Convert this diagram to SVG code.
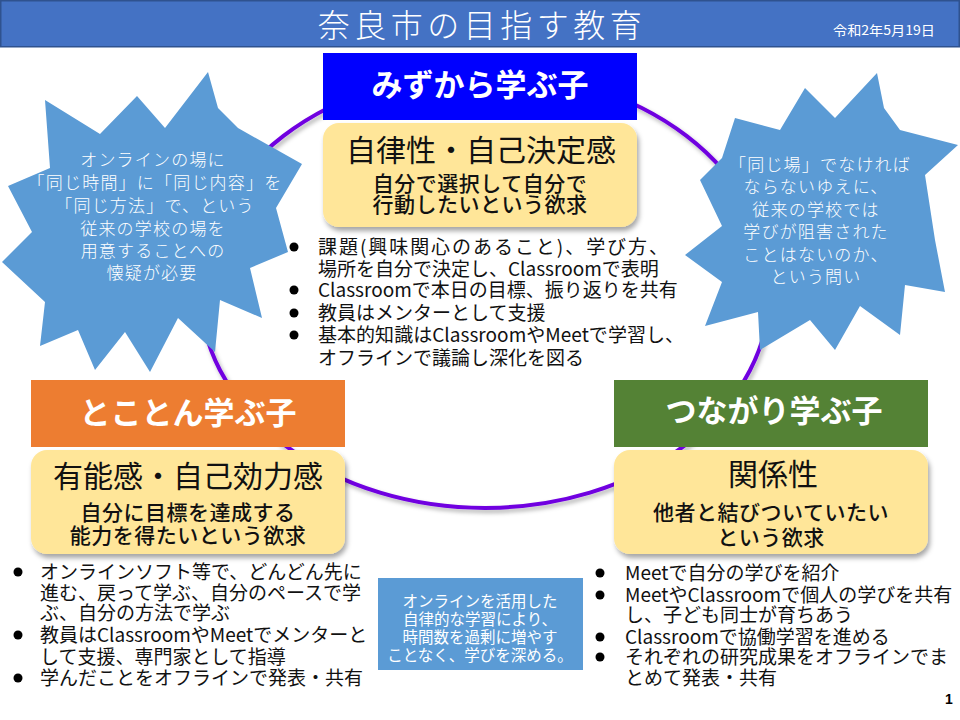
<svg xmlns="http://www.w3.org/2000/svg" width="960" height="720" viewBox="0 0 960 720">
<style>
.jp{font-family:"Noto Sans CJK JP","Noto Sans",sans-serif}
.title{font-size:32px;fill:#fff;text-anchor:middle;font-weight:300;letter-spacing:4.5px}
.date{font-size:13px;fill:#fff}
.hdr{font-size:31px;fill:#fff;text-anchor:middle;font-weight:bold}
.box{fill:#FFE699;filter:url(#sh)}
.main{font-size:30px;fill:#111;text-anchor:middle}
.sub{font-size:21px;fill:#111;text-anchor:middle;font-weight:500;letter-spacing:0.5px}
.star{fill:#5B9BD5}
.st{font-size:17px;fill:#fff;text-anchor:middle;font-weight:300;letter-spacing:1.2px}
.bl{font-size:19px;fill:#111}
.dot{fill:#000}
.ct{font-size:15.5px;fill:#fff;text-anchor:middle}
</style>
<defs>
<filter id="sh" x="-10%" y="-10%" width="130%" height="140%">
<feDropShadow dx="2" dy="4" stdDeviation="2.5" flood-color="#000" flood-opacity="0.35"/>
</filter>
<filter id="lsh" x="-10%" y="-10%" width="130%" height="130%">
<feDropShadow dx="2" dy="3" stdDeviation="2" flood-color="#000" flood-opacity="0.3"/>
</filter>
</defs>
<rect width="960" height="720" fill="#fff"/>
<g id="titlebar">
<rect x="0.75" y="0.75" width="958.5" height="46" fill="#4472C4" stroke="#2F528F" stroke-width="1.5"/>
<text class="jp title" x="482" y="37">奈良市の目指す教育</text>
<text class="jp date" x="833" y="35" textLength="102" lengthAdjust="spacingAndGlyphs">令和2年5月19日</text>
</g>
<g id="connectors">
<ellipse cx="485" cy="290" rx="285" ry="218" fill="none" stroke="#7000E0" stroke-width="4" filter="url(#lsh)"/>
</g>
<g id="star-left">
<polygon class="star" points="208,72 218,108 238,128 302,164 276,208 288,252 250,268 262,318 220,300 215,352 178,318 150,372 125,332 95,370 78,330 40,346 45,302 2,262 32,232 8,186 50,168 45,100 100,134 137,96 165,128"/>
<text class="jp st" x="153" y="166">オンラインの場に</text>
<text class="jp st" x="155" y="189">「同じ時間」に「同じ内容」を</text>
<text class="jp st" x="155" y="212">「同じ方法」で、という</text>
<text class="jp st" x="153" y="235">従来の学校の場を</text>
<text class="jp st" x="153" y="257">用意することへの</text>
<text class="jp st" x="152" y="279">懐疑が必要</text>
</g>
<g id="star-right">
<polygon class="star" points="877,73 884,108 900,130 958,145 925,175 935,240 945,292 905,285 900,335 860,306 835,350 810,320 760,350 758,312 705,326 722,282 685,255 722,226 700,180 722,158 735,118 780,130 805,88 835,118"/>
<text class="jp st" x="820" y="171">「同じ場」でなければ</text>
<text class="jp st" x="816" y="193">ならないゆえに、</text>
<text class="jp st" x="816" y="216">従来の学校では</text>
<text class="jp st" x="816" y="238">学びが阻害された</text>
<text class="jp st" x="816" y="261">ことはないのか、</text>
<text class="jp st" x="816" y="283">という問い</text>
</g>
<g id="node-mizukara">
<rect x="323" y="53" width="314" height="67" fill="#0000FF"/>
<text class="jp hdr" x="480" y="96">みずから学ぶ子</text>
<rect class="box" x="323" y="123" width="314" height="104" rx="16"/>
<text class="jp main" x="481" y="161">自律性・自己決定感</text>
<text class="jp sub" x="480" y="191">自分で選択して自分で</text>
<text class="jp sub" x="480" y="212">行動したいという欲求</text>
</g>
<g id="list-mizukara">
<circle class="dot" cx="294" cy="247" r="4.5"/>
<circle class="dot" cx="294" cy="290" r="4.5"/>
<circle class="dot" cx="294" cy="313" r="4.5"/>
<circle class="dot" cx="294" cy="335" r="4.5"/>
<text class="jp bl" x="318" y="254" textLength="350">課題(興味関心のあること)、学び方、</text>
<text class="jp bl" x="318" y="275.5">場所を自分で決定し、Classroomで表明</text>
<text class="jp bl" x="318" y="297">Classroomで本日の目標、振り返りを共有</text>
<text class="jp bl" x="318" y="320">教員はメンターとして支援</text>
<text class="jp bl" x="318" y="342" textLength="366">基本的知識はClassroomやMeetで学習し、</text>
<text class="jp bl" x="318" y="365">オフラインで議論し深化を図る</text>
</g>
<g id="node-tokoton">
<rect x="31" y="380" width="314" height="67" fill="#ED7D31"/>
<text class="jp hdr" x="188" y="424">とことん学ぶ子</text>
<rect class="box" x="31" y="450" width="314" height="104" rx="16"/>
<text class="jp main" x="188" y="487">有能感・自己効力感</text>
<text class="jp sub" x="188" y="519.5">自分に目標を達成する</text>
<text class="jp sub" x="188" y="542.5">能力を得たいという欲求</text>
</g>
<g id="list-tokoton">
<circle class="dot" cx="18" cy="572" r="4.5"/>
<circle class="dot" cx="18" cy="635" r="4.5"/>
<circle class="dot" cx="18" cy="678" r="4.5"/>
<text class="jp bl" x="40" y="579">オンラインソフト等で、どんどん先に</text>
<text class="jp bl" x="40" y="600">進む、戻って学ぶ、自分のペースで学</text>
<text class="jp bl" x="40" y="620">ぶ、自分の方法で学ぶ</text>
<text class="jp bl" x="40" y="642">教員はClassroomやMeetでメンターと</text>
<text class="jp bl" x="40" y="664">して支援、専門家として指導</text>
<text class="jp bl" x="40" y="685">学んだことをオフラインで発表・共有</text>
</g>
<g id="node-tsunagari">
<rect x="614" y="380" width="314" height="67" fill="#548235"/>
<text class="jp hdr" x="774" y="422">つながり学ぶ子</text>
<rect class="box" x="614" y="450" width="314" height="104" rx="16"/>
<text class="jp main" x="773" y="485">関係性</text>
<text class="jp sub" x="771" y="520">他者と結びついていたい</text>
<text class="jp sub" x="771" y="545">という欲求</text>
</g>
<g id="list-tsunagari">
<circle class="dot" cx="600" cy="573" r="4.5"/>
<circle class="dot" cx="600" cy="595" r="4.5"/>
<circle class="dot" cx="600" cy="637" r="4.5"/>
<circle class="dot" cx="600" cy="657" r="4.5"/>
<text class="jp bl" x="625" y="580">Meetで自分の学びを紹介</text>
<text class="jp bl" x="625" y="602">MeetやClassroomで個人の学びを共有</text>
<text class="jp bl" x="625" y="622">し、子ども同士が育ちあう</text>
<text class="jp bl" x="625" y="644">Classroomで協働学習を進める</text>
<text class="jp bl" x="625" y="664">それぞれの研究成果をオフラインでま</text>
<text class="jp bl" x="625" y="685">とめて発表・共有</text>
</g>
<g id="center-note">
<rect x="378" y="578" width="205" height="92" fill="#5B9BD5"/>
<text class="jp ct" x="480" y="607">オンラインを活用した</text>
<text class="jp ct" x="480" y="625">自律的な学習により、</text>
<text class="jp ct" x="480" y="643">時間数を過剰に増やす</text>
<text class="jp ct" x="480" y="661">ことなく、学びを深める。</text>
</g>
<text x="945" y="704" font-family="Liberation Sans, sans-serif" font-size="14" font-weight="bold" fill="#000">1</text>
</svg>
